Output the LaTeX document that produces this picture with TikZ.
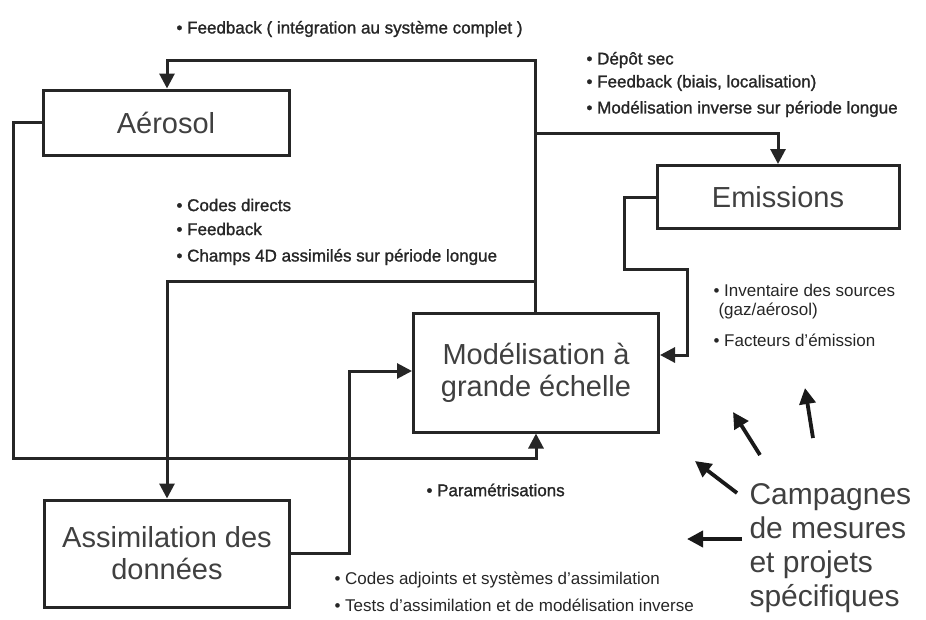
\documentclass[tikz,border=0pt]{standalone}
\usepackage{fontspec}
\setmainfont{Liberation Sans}
\newfontfamily\boldish[FakeBold=1.3]{Liberation Sans}
\usetikzlibrary{arrows.meta}
\begin{document}
\begin{tikzpicture}[x=1pt,y=-1pt,
  line width=3pt,
  box/.style={draw=black!85, line width=3pt, rectangle, inner sep=0pt, align=center,
    font=\fontsize{29}{32}\selectfont, text=black!75},
  arr/.style={draw=black!85, line width=3pt, -{Triangle[length=15pt,width=15pt]}},
  carr/.style={draw=black!90, line width=3.8pt, -{Triangle[length=16pt,width=16pt]}},
  lab/.style={inner sep=0pt, anchor=west, font=\fontsize{17}{25}\selectfont, text=black!85},
  blab/.style={lab, font=\boldish\fontsize{17}{25}\selectfont},
  big/.style={inner sep=0pt, anchor=north west, align=left, font=\fontsize{30}{34}\selectfont, text=black!75}]
\useasboundingbox (0,0) rectangle (926,619);

% boxes
\node[box, minimum width=246pt, minimum height=65pt] (aer) at (166,122.5) {Aérosol};
\node[box, minimum width=242pt, minimum height=63pt] (emi) at (778,197) {Emissions};
\node[box, minimum width=245pt, minimum height=119pt] (mod) at (536,372.5) {Modélisation à\\grande échelle};
\node[box, minimum width=245pt, minimum height=107pt] (ass) at (167,553.5) {Assimilation des\\données};

% routing points
\coordinate (c1) at (535,60);
\coordinate (c2) at (167,60);
\coordinate (c3) at (535,133);
\coordinate (c4) at (535,281);
\coordinate (c5) at (13,458);
\coordinate (c6) at (624,269);
\coordinate (c7) at (687,355);
\coordinate (c8) at (349,371);

% connectors
\draw[arr] (mod.north -| c1) -- (c1) -- (c2) -- (aer.north -| c2);
\draw[arr] (c3) -| (emi.north);
\draw[arr] (c4) -| (ass.north);
\draw[arr] (aer.west) -| (c5) -| (mod.south);
\draw[arr] (emi.west) -| (c6) -| (c7) -- (c7 -| mod.east);
\draw[arr] (ass.east) -| (c8) -- (c8 -| mod.west);

% labels
\node[blab] (l1) at (175,29) {• Feedback ( intégration au système complet )};
\node[blab] (l2a) at (585,60) {• Dépôt sec};
\node[blab] (l2b) at (585,83) {• Feedback (biais, localisation)};
\node[blab] (l2c) at (585,109) {• Modélisation inverse sur période longue};
\node[blab] (l3a) at (175,205) {• Codes directs};
\node[blab] (l3b) at (175,229) {• Feedback};
\node[blab] (l3c) at (175,257) {• Champs 4D assimilés sur période longue};
\node[lab] (l4a) at (712,290) {• Inventaire des sources};
\node[lab] (l4b) at (717,311) {(gaz/aérosol)};
\node[lab] (l4c) at (712,340) {• Facteurs d'émission};
\node[blab] (l5) at (425,490) {• Paramétrisations};
\node[lab] (l6a) at (333,580) {• Codes adjoints et systèmes d'assimilation};
\node[lab] (l6b) at (333,605) {• Tests d'assimilation et de modélisation inverse};

% campagnes
\node[big] (camp) at (748,482) {Campagnes\\de mesures\\et projets\\spécifiques};
\coordinate (a1s) at (813,438); \coordinate (a1e) at (805,388);
\coordinate (a2s) at (760,455); \coordinate (a2e) at (733,412);
\coordinate (a3s) at (737,493); \coordinate (a3e) at (695,461);
\coordinate (a4s) at (742,539); \coordinate (a4e) at (687,539);
\draw[carr] (a1s) -- (a1e);
\draw[carr] (a2s) -- (a2e);
\draw[carr] (a3s) -- (a3e);
\draw[carr] (a4s) -- (a4e);
\end{tikzpicture}
\end{document}
